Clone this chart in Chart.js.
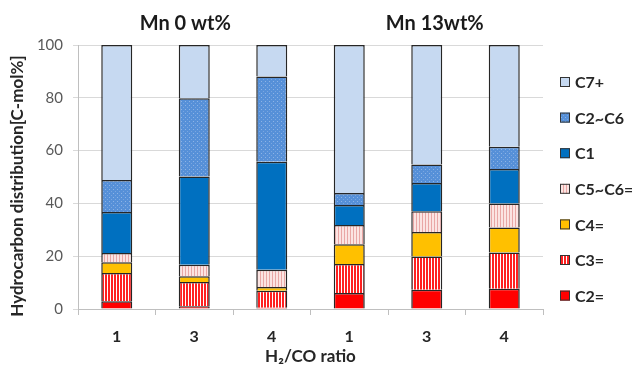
<!DOCTYPE html>
<html>
<head>
<meta charset="utf-8">
<script src="https://cdn.jsdelivr.net/npm/chart.js@4"></script>
<style>
  html, body { margin: 0; padding: 0; background: #fff; }
  #wrap { width: 632px; height: 367px; position: relative; }
</style>
</head>
<body>
<div id="wrap"><canvas id="chart" width="632" height="367"></canvas></div>
<script>
// categories (H2/CO ratio) and group titles
const categories = ['1', '3', '4', '1', '3', '4'];
const groupTitles = ['Mn 0 wt%', 'Mn 13wt%'];
const yTicks = [0, 20, 40, 60, 80, 100];

// series values, C-mol% (bottom to top of each bar)
const c2ene = [2.9, 1.0, 0.5, 6.1, 7.3, 7.7];
const c3ene = [10.7, 9.2, 6.4, 10.9, 12.6, 13.7];
const c4ene = [4.1, 2.2, 1.4, 7.5, 9.3, 9.5];
const c5c6ene = [3.5, 4.4, 6.6, 7.3, 7.8, 9.1];
const c1 = [15.5, 33.4, 40.9, 7.6, 10.7, 13.0];
const c2c6 = [12.2, 29.6, 32.3, 4.5, 7.0, 8.5];
const c7plus = [51.1, 20.2, 11.9, 56.1, 45.3, 38.5];

const FONT = 'Lato, "Open Sans", sans-serif';

// --- fill patterns ---
function makePattern(w, h, draw) {
    const c = document.createElement('canvas');
    c.width = w; c.height = h;
    draw(c.getContext('2d'));
    return c.getContext('2d').createPattern(c, 'repeat');
}
const redStripes = makePattern(3, 3, g => {
    g.fillStyle = '#ff2020'; g.fillRect(0, 0, 3, 3);
    g.fillStyle = '#ffffff'; g.fillRect(2, 0, 1, 3);
});
const pinkStripes = makePattern(3, 3, g => {
    g.fillStyle = '#fbe4e2'; g.fillRect(0, 0, 3, 3);
    g.fillStyle = '#e9a7a5'; g.fillRect(2, 0, 1, 3);
});
const blueDots = makePattern(4, 4, g => {
    g.fillStyle = '#5690d8'; g.fillRect(0, 0, 4, 4);
    g.fillStyle = '#8db4e6'; g.fillRect(1, 1, 1, 1);
    g.fillStyle = '#7aa6e0'; g.fillRect(3, 3, 1, 1);
});

const series = [
    { label: 'C2=', data: c2ene, fill: '#ff0000' },
    { label: 'C3=', data: c3ene, fill: redStripes },
    { label: 'C4=', data: c4ene, fill: '#ffc000' },
    { label: 'C5~C6=', data: c5c6ene, fill: pinkStripes },
    { label: 'C1', data: c1, fill: '#0070c0' },
    { label: 'C2~C6', data: c2c6, fill: blueDots },
    { label: 'C7+', data: c7plus, fill: '#c6d9f1' }
];

// group titles above each set of three bars, plus the rotated y title
const titlePlugin = {
    id: 'titles',
    afterDraw(chart) {
        const ctx = chart.ctx;
        const x = chart.scales.x;
        const shift = [-9, 8];
        ctx.save();
        ctx.font = 'bold 20px ' + FONT;
        ctx.fillStyle = '#1a1a1a';
        ctx.textAlign = 'center';
        ctx.textBaseline = 'middle';
        groupTitles.forEach((t, i) => {
            const cx = x.getPixelForValue(i * 3 + 1) + shift[i];
            ctx.fillText(t, cx, 24);
        });
        // y axis title
        ctx.font = 'bold 17px ' + FONT;
        ctx.fillStyle = '#262626';
        ctx.translate(18, 186);
        ctx.rotate(-Math.PI / 2);
        ctx.fillText('Hydrocarbon distribution[C-mol%]', 0, 0);
        ctx.restore();
    }
};

// legend on the right, top entry = top of stack
const sideLegendPlugin = {
    id: 'sideLegend',
    afterDraw(chart) {
        const ctx = chart.ctx;
        const top = chart.chartArea.top + 37;
        const step = 35.6;
        ctx.save();
        ctx.font = 'bold 16px ' + FONT;
        ctx.textBaseline = 'middle';
        const sets = chart.data.datasets.slice().reverse();
        sets.forEach((ds, i) => {
            const y = top + i * step;
            ctx.fillStyle = ds.backgroundColor;
            ctx.fillRect(560, y - 5, 10, 10);
            ctx.strokeStyle = '#333';
            ctx.lineWidth = 1;
            ctx.strokeRect(560.5, y - 4.5, 9, 9);
            ctx.fillStyle = '#262626';
            ctx.fillText(ds.label, 575, y + 1);
        });
        ctx.restore();
    }
};

new Chart(document.getElementById('chart'), {
    type: 'bar',
    data: {
        labels: categories,
        datasets: series.map(s => ({
            label: s.label,
            data: s.data,
            backgroundColor: s.fill,
            borderColor: '#262626',
            borderWidth: 1.5,
            categoryPercentage: 1,
            barPercentage: 0.4
        }))
    },
    options: {
        responsive: false,
        animation: false,
        devicePixelRatio: 1,
        layout: { padding: { top: 45, right: 89, left: 0, bottom: 0 } },
        plugins: {
            legend: { display: false },
            tooltip: { enabled: false }
        },
        scales: {
            x: {
                stacked: true,
                grid: { drawOnChartArea: false, offset: true, tickLength: 6, color: '#bfbfbf' },
                border: { color: '#bfbfbf' },
                ticks: { color: '#262626', font: { family: FONT, size: 16, weight: 'bold' }, padding: 12 },
                title: {
                    display: true,
                    text: 'H₂/CO ratio',
                    color: '#262626',
                    font: { family: FONT, size: 17, weight: 'bold' },
                    padding: { top: 0, bottom: 0 }
                },
                afterFit(scale) { scale.height = 58; }
            },
            y: {
                stacked: true,
                min: 0,
                max: 100,
                afterBuildTicks(scale) { scale.ticks = yTicks.map(v => ({ value: v })); },
                grid: { color: '#d9d9d9', tickLength: 5 },
                border: { color: '#bfbfbf' },
                ticks: { color: '#595959', font: { family: FONT, size: 15 }, padding: 10 },
                afterFit(scale) { scale.width = 78; }
            }
        }
    },
    plugins: [titlePlugin, sideLegendPlugin]
});
</script>
</body>
</html>
